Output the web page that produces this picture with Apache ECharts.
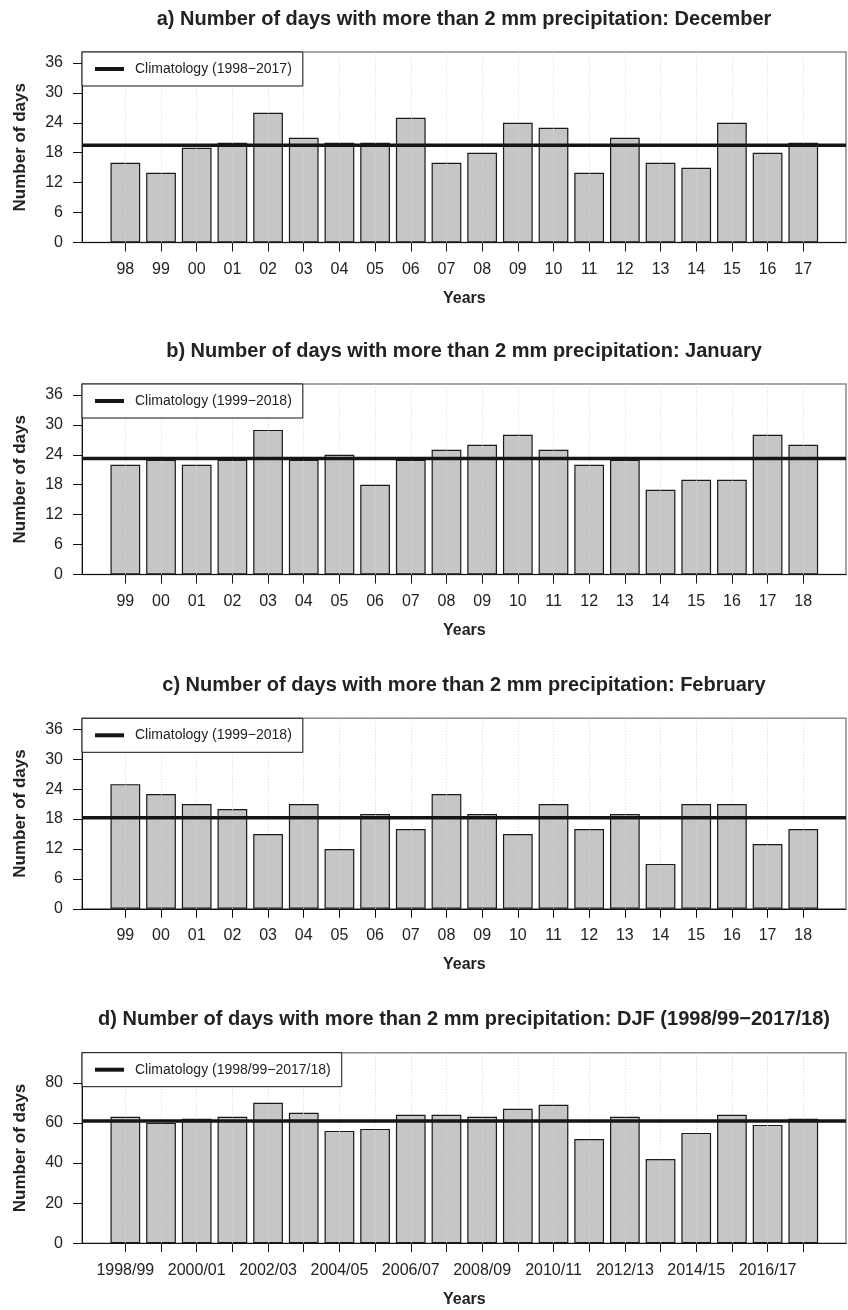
<!DOCTYPE html>
<html>
<head>
<meta charset="utf-8">
<script src="https://cdn.jsdelivr.net/npm/echarts@6/dist/echarts.min.js"></script>
<style>
  html, body { margin: 0; padding: 0; background: #fff; }
  #chart { width: 848px; height: 1310px; }
</style>
</head>
<body>
<div id="chart"></div>
<script>
// Category labels
const decYears = ['98','99','00','01','02','03','04','05','06','07','08','09','10','11','12','13','14','15','16','17'];
const janYears = ['99','00','01','02','03','04','05','06','07','08','09','10','11','12','13','14','15','16','17','18'];
const febYears = ['99','00','01','02','03','04','05','06','07','08','09','10','11','12','13','14','15','16','17','18'];
const djfSeasons = ['1998/99','1999/00','2000/01','2001/02','2002/03','2003/04','2004/05','2005/06','2006/07','2007/08',
                    '2008/09','2009/10','2010/11','2011/12','2012/13','2013/14','2014/15','2015/16','2016/17','2017/18'];

// Days with more than 2 mm precipitation
const decDays = [16,14,19,20,26,21,20,20,25,16,18,24,23,14,21,16,15,24,18,20];
const janDays = [22,23,22,23,29,23,24,18,23,25,26,28,25,22,23,17,19,19,28,26];
const febDays = [25,23,21,20,15,21,12,19,16,23,19,15,21,16,19,9,21,21,13,16];
const djfDays = [63,60,62,63,70,65,56,57,64,64,63,67,69,52,63,42,55,64,59,62];

// Climatology (mean of each period)
const climDec = 19.5;
const climJan = 23.25;
const climFeb = 18.25;
const climDjf = 61;

// Y tick labels
const monthTicks = [0, 6, 12, 18, 24, 30, 36];
const djfTicks = [0, 20, 40, 60, 80];

const panelTitles = [
  'a) Number of days with more than 2 mm precipitation: December',
  'b) Number of days with more than 2 mm precipitation: January',
  'c) Number of days with more than 2 mm precipitation: February',
  'd) Number of days with more than 2 mm precipitation: DJF (1998/99\u22122017/18)'
];
const climNames = [
  'Climatology (1998\u22122017)',
  'Climatology (1999\u22122018)',
  'Climatology (1999\u22122018)',
  'Climatology (1998/99\u22122017/18)'
];

const FONT = '"Liberation Sans", Arial, Helvetica, sans-serif';
const INK = '#222';

// Layout of the four stacked panels
const boxLeft = 82, boxWidth = 764;       // framed plotting region
const barLeft = 107.5, barWidth = 713.6;  // region holding the 20 bar slots
const boxHeight = 190.5;
const panels = [
  { title: panelTitles[0], cats: decYears,   values: decDays, clim: climDec, name: climNames[0], ticks: monthTicks, yMax: 38.2, top: 52,     labelInterval: 0 },
  { title: panelTitles[1], cats: janYears,   values: janDays, clim: climJan, name: climNames[1], ticks: monthTicks, yMax: 38.2, top: 384,    labelInterval: 0 },
  { title: panelTitles[2], cats: febYears,   values: febDays, clim: climFeb, name: climNames[2], ticks: monthTicks, yMax: 38.2, top: 718.3,  labelInterval: 0 },
  { title: panelTitles[3], cats: djfSeasons, values: djfDays, clim: climDjf, name: climNames[3], ticks: djfTicks,   yMax: 95,   top: 1052.7, labelInterval: 1 }
];

const grid = [], xAxis = [], yAxis = [], series = [], title = [], legend = [];

panels.forEach((p, i) => {
  const gBox = 2 * i, gBar = 2 * i + 1;

  // Framed box (frame, left axis, bottom line, climatology line)
  grid.push({
    left: boxLeft, top: p.top, width: boxWidth, height: boxHeight,
    show: true, borderColor: '#8a8a8a', borderWidth: 1.5, backgroundColor: 'transparent'
  });
  // Bar region
  grid.push({ left: barLeft, top: p.top, width: barWidth, height: boxHeight });

  xAxis.push({
    gridIndex: gBox, type: 'value', min: 0, max: 1,
    axisLine: { show: true, lineStyle: { color: '#111', width: 1 } },
    axisTick: { show: false }, axisLabel: { show: false }, splitLine: { show: false }
  });
  xAxis.push({
    gridIndex: gBar, type: 'category', data: p.cats, boundaryGap: true,
    axisLine: { show: false },
    axisTick: { show: true, alignWithLabel: true, interval: 0, length: 9, lineStyle: { color: '#111', width: 1 } },
    axisLabel: { interval: p.labelInterval, fontSize: 16, color: INK, fontFamily: FONT, margin: 19 },
    splitLine: { show: false },
    name: 'Years', nameLocation: 'middle', nameGap: 48,
    nameTextStyle: { fontSize: 16, fontWeight: 'bold', color: INK, fontFamily: FONT }
  });

  yAxis.push({
    gridIndex: gBox, type: 'value', min: 0, max: p.yMax,
    axisLine: { show: true, lineStyle: { color: '#111', width: 1 } },
    axisTick: { show: true, customValues: p.ticks, length: 9, lineStyle: { color: '#111', width: 1 } },
    axisLabel: { customValues: p.ticks, fontSize: 16, color: INK, fontFamily: FONT, margin: 19 },
    splitLine: { show: false },
    name: 'Number of days', nameLocation: 'middle', nameGap: 53, nameRotate: 90,
    nameTextStyle: { fontSize: 17, fontWeight: 'bold', color: INK, fontFamily: FONT }
  });
  yAxis.push({
    gridIndex: gBar, type: 'value', min: 0, max: p.yMax, show: false, splitLine: { show: false }
  });

  series.push({
    type: 'bar', xAxisIndex: gBar, yAxisIndex: gBar,
    data: p.values, barWidth: '83.3%',
    itemStyle: { color: '#c6c6c6', borderColor: '#1a1a1a', borderWidth: 1.2 },
    silent: true,
    markLine: {
      silent: true, symbol: 'none', label: { show: false },
      lineStyle: { type: [1, 2], color: '#d9d9d9', width: 1 },
      data: p.cats.map((c, k) => ({ xAxis: k }))
    }
  });
  series.push({
    type: 'line', name: p.name, xAxisIndex: gBox, yAxisIndex: gBox,
    data: [[0, p.clim], [1, p.clim]],
    symbol: 'none', silent: true, z: 5,
    lineStyle: { color: '#151515', width: 3.5 }
  });

  title.push({
    text: p.title, left: boxLeft + boxWidth / 2, textAlign: 'center',
    top: p.top - 43, padding: 0,
    textStyle: { fontSize: 20, fontWeight: 'bold', color: INK, fontFamily: FONT }
  });

  legend.push({
    left: boxLeft, top: p.top, orient: 'horizontal', z: 10,
    data: [p.name], selectedMode: false,
    icon: 'rect', itemWidth: 29, itemHeight: 4,
    itemStyle: { color: '#151515' },
    backgroundColor: '#fff', borderColor: '#111', borderWidth: 1, borderRadius: 0,
    padding: [10, 11, 10, 13],
    textStyle: { fontSize: 14, color: INK, fontFamily: FONT, padding: [0, 0, 0, 6] }
  });
});

const chart = echarts.init(document.getElementById('chart'), null, { renderer: 'canvas' });
chart.setOption({
  animation: false,
  backgroundColor: '#fff',
  title, legend, grid, xAxis, yAxis, series
});
</script>
</body>
</html>
